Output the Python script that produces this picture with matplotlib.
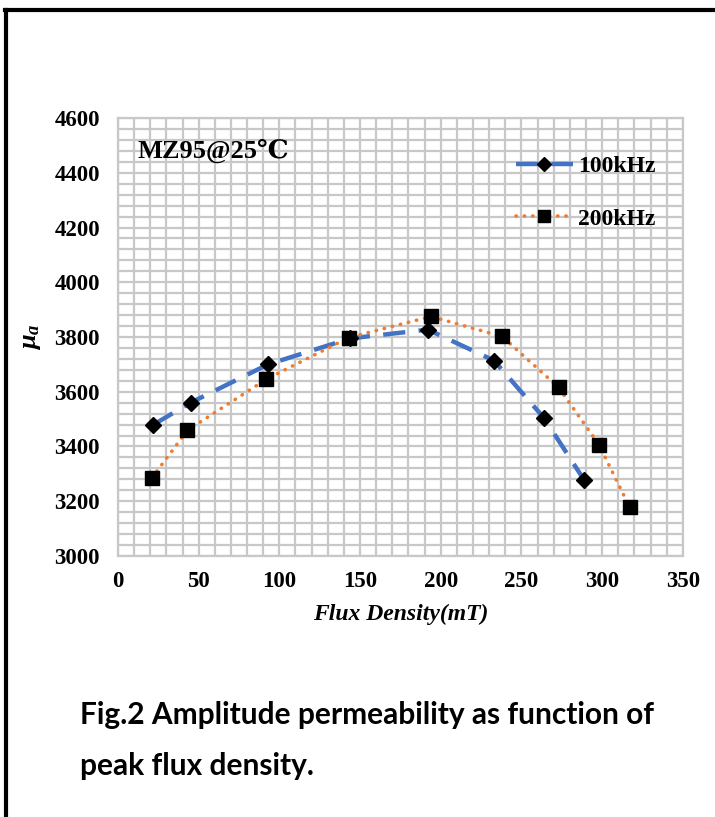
import matplotlib.pyplot as plt
from matplotlib.lines import Line2D
from matplotlib.ticker import MultipleLocator

# flux density (mT) and amplitude permeability
b_100k = [22, 45, 93, 144, 192, 233, 264, 289]
mu_100k = [3480, 3560, 3700, 3795, 3827, 3714, 3504, 3276]
b_200k = [21, 43, 92, 143, 194, 238, 273, 298, 317]
mu_200k = [3285, 3459, 3646, 3798, 3875, 3802, 3616, 3407, 3179]

x_ticks = [0, 50, 100, 150, 200, 250, 300, 350]
y_ticks = [3000, 3200, 3400, 3600, 3800, 4000, 4200, 4400, 4600]

serif = ['Liberation Serif', 'DejaVu Serif']
plt.rcParams['mathtext.fontset'] = 'custom'
plt.rcParams['mathtext.it'] = 'Liberation Serif:italic:bold'
plt.rcParams['mathtext.rm'] = 'Liberation Serif:bold'

fig = plt.figure(figsize=(7.15, 8.17), dpi=100)
ax = fig.add_axes([0.165, 0.3195, 0.790, 0.536])

ax.plot(b_100k, mu_100k, color='#4472C4', lw=3.2, ls=(0, (5, 3)),
        marker='D', ms=8, mfc='black', mec='black', label='100kHz', zorder=3)
ax.plot(b_200k, mu_200k, color='#ED7D31', lw=2.6, ls=(0, (0.1, 2.2)),
        dash_capstyle='round', marker='s', ms=10, mfc='black', mec='black',
        label='200kHz', zorder=4)

ax.set_xlim(0, 350)
ax.set_ylim(3000, 4600)
ax.set_xticks(x_ticks)
ax.set_yticks(y_ticks)
ax.xaxis.set_minor_locator(MultipleLocator(10))
ax.yaxis.set_minor_locator(MultipleLocator(40))
ax.grid(which='both', color='#c8c8c8', lw=1.6)
ax.set_axisbelow(True)
ax.tick_params(which='both', length=0)
ax.tick_params(axis='y', pad=13)
ax.tick_params(axis='x', pad=11)
for s in ax.spines.values():
    s.set_color('#c8c8c8')
    s.set_linewidth(1.6)

for lab in ax.get_xticklabels() + ax.get_yticklabels():
    lab.set_family(serif)
    lab.set_fontweight('bold')
    lab.set_fontsize(16.5)

ax.set_xlabel('Flux Density(mT)', family=serif, fontsize=17, fontweight='bold',
              fontstyle='italic', labelpad=8)
ax.set_ylabel(r'$\mu_a$', fontsize=19, labelpad=8)

ax.text(0.035, 0.925, 'MZ95@25℃', transform=ax.transAxes, family=serif,
        fontsize=19, fontweight='bold', va='center')

leg = ax.legend(loc='upper right', bbox_to_anchor=(0.99, 0.962), frameon=False,
                prop={'family': serif, 'weight': 'bold', 'size': 17},
                handlelength=2.4, labelspacing=1.3, handletextpad=0.25,
                markerscale=0.85)

fig.text(0.112, 0.125, 'Fig.2 Amplitude permeability as function of',
         family='Lato', fontweight='bold', fontsize=21.5, va='center')
fig.text(0.112, 0.063, 'peak flux density.',
         family='Lato', fontweight='bold', fontsize=21.5, va='center')

# frame around the figure
fig.add_artist(Line2D([0.0084, 0.0084], [0, 0.9878], transform=fig.transFigure,
                      color='black', lw=3))
fig.add_artist(Line2D([0.0063, 1.0], [0.9878, 0.9878], transform=fig.transFigure,
                      color='black', lw=3))

plt.savefig('out.png', dpi=100)
